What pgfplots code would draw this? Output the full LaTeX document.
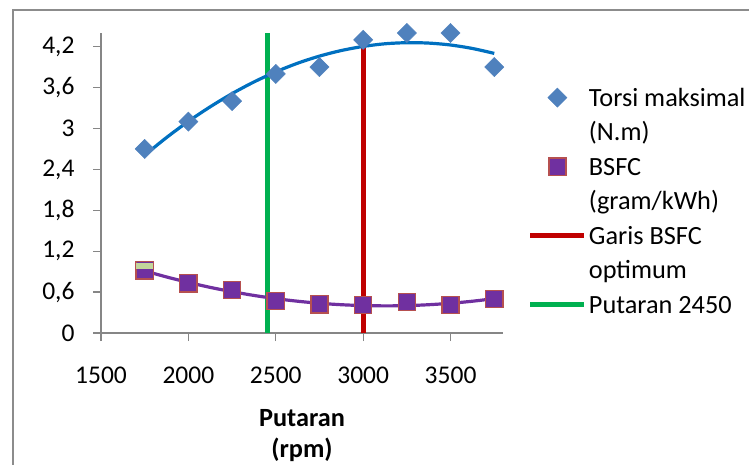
\documentclass[border=0pt]{standalone}
\usepackage{fontspec}
\setmainfont{Carlito}
\usepackage{pgfplots}
\pgfplotsset{compat=1.18}

\definecolor{torsiblue}{HTML}{4F81BD}
\definecolor{trendblue}{HTML}{0070C0}
\definecolor{bsfcpurple}{HTML}{7030A0}
\definecolor{bsfcedge}{HTML}{B65050}
\definecolor{optred}{HTML}{C00000}
\definecolor{rpmgreen}{HTML}{00B050}
\definecolor{stripgreen}{HTML}{C3D69B}
\definecolor{axisgray}{HTML}{868686}
\definecolor{framegray}{HTML}{8C8C8C}

% thin horizontal band used as a plot mark
\pgfdeclareplotmark{hstrip}{%
  \pgfpathrectangle{\pgfqpoint{-8.2pt}{-3pt}}{\pgfqpoint{16.4pt}{6pt}}%
  \pgfusepathqfill}

% legend images: a single centred mark, or a short horizontal bar
\pgfplotsset{
  markimg/.style={legend image code/.code={\draw[##1] plot coordinates {(27pt,8.4pt)};}},
  lineimg/.style={legend image code/.code={\draw[##1] (0pt,8.4pt) -- (54pt,8.4pt);}},
}

\newcommand{\entry}[1]{\begin{tabular}[t]{@{}l@{}}#1\end{tabular}}

\begin{document}
\begin{tikzpicture}
\useasboundingbox (0,0) rectangle (749pt,464pt);
\draw[framegray, line width=2pt] (12.5pt,-20pt) -- (12.5pt,453.5pt) -- (780pt,453.5pt);
\begin{axis}[
  at={(101pt,131pt)}, anchor=south west,
  scale only axis, width=402pt, height=300pt,
  xmin=1500, xmax=3800, ymin=0, ymax=4.4,
  axis lines*=left,
  axis line style={axisgray, line width=1.3pt},
  xtick={1500,2000,2500,3000,3500},
  ytick={0,0.6,1.2,1.8,2.4,3,3.6,4.2},
  tick align=outside, major tick length=8pt,
  tick style={axisgray, line width=1.3pt},
  /pgf/number format/assume math mode=true,
  tick label style={font=\fontsize{25.5}{30}\selectfont, text=black},
  x tick label style={/pgf/number format/set thousands separator={}, yshift=-22pt},
  y tick label style={/pgf/number format/.cd, fixed, precision=1, use comma,
    /tikz/xshift=-15pt},
  xlabel={Putaran\\(rpm)},
  xlabel style={font=\bfseries\fontsize{26.3}{31}\selectfont, align=center,
    at={(axis description cs:0.5,0)}, anchor=north, yshift=-73pt},
  every axis legend/.style={
    at={(1.062,0.836)}, anchor=north west,
    draw=none, fill=none, inner sep=0pt, outer sep=0pt,
    column sep=2pt, row sep=1pt,
    cells={anchor=base west},
    nodes={inner sep=0pt, outer sep=0pt, font=\fontsize{26.3}{34}\selectfont},
  },
]
% measured points
\addplot[only marks, mark=square*, mark size=6.8pt,
  mark options={rotate=45, fill=torsiblue, draw=torsiblue}, markimg]
  coordinates {(1750,2.7) (2000,3.1) (2250,3.4) (2500,3.8) (2750,3.9)
               (3000,4.3) (3250,4.4) (3500,4.4) (3750,3.9)};
\addlegendentry{\entry{Torsi maksimal\\(N.m)}}
\addplot[only marks, mark=square*, mark size=8.6pt,
  mark options={fill=bsfcpurple, draw=bsfcedge, line width=1.4pt}, markimg]
  coordinates {(1750,0.92) (2000,0.73) (2250,0.63) (2500,0.47) (2750,0.42)
               (3000,0.41) (3250,0.455) (3500,0.41) (3750,0.50)};
\addlegendentry{\entry{BSFC\\(gram/kWh)}}
\addplot[only marks, mark=hstrip, color=stripgreen, forget plot]
  coordinates {(1750,0.985)};
% reference lines
\addplot[optred, line width=5pt, lineimg]
  coordinates {(3000,0) (3000,4.4)};
\addlegendentry{\entry{Garis BSFC\\optimum}}
\addplot[rpmgreen, line width=5pt, lineimg]
  coordinates {(2450,0) (2450,4.4)};
\addlegendentry{\entry{Putaran 2450}}
% trend curves
\addplot[trendblue, line width=3.2pt, smooth, forget plot]
  coordinates {(1750,2.608) (1875,2.867) (2000,3.104) (2125,3.318) (2250,3.511)
               (2375,3.682) (2500,3.830) (2625,3.957) (2750,4.061) (2875,4.143)
               (3000,4.203) (3125,4.242) (3250,4.258) (3375,4.252) (3500,4.224)
               (3625,4.173) (3750,4.101)};
\addplot[bsfcpurple, line width=3.2pt, smooth, forget plot]
  coordinates {(1750,0.911) (1875,0.822) (2000,0.742) (2125,0.669) (2250,0.606)
               (2375,0.551) (2500,0.504) (2625,0.466) (2750,0.436) (2875,0.415)
               (3000,0.402) (3125,0.398) (3250,0.401) (3375,0.415) (3500,0.436)
               (3625,0.466) (3750,0.504)};
\end{axis}
\end{tikzpicture}
\end{document}
